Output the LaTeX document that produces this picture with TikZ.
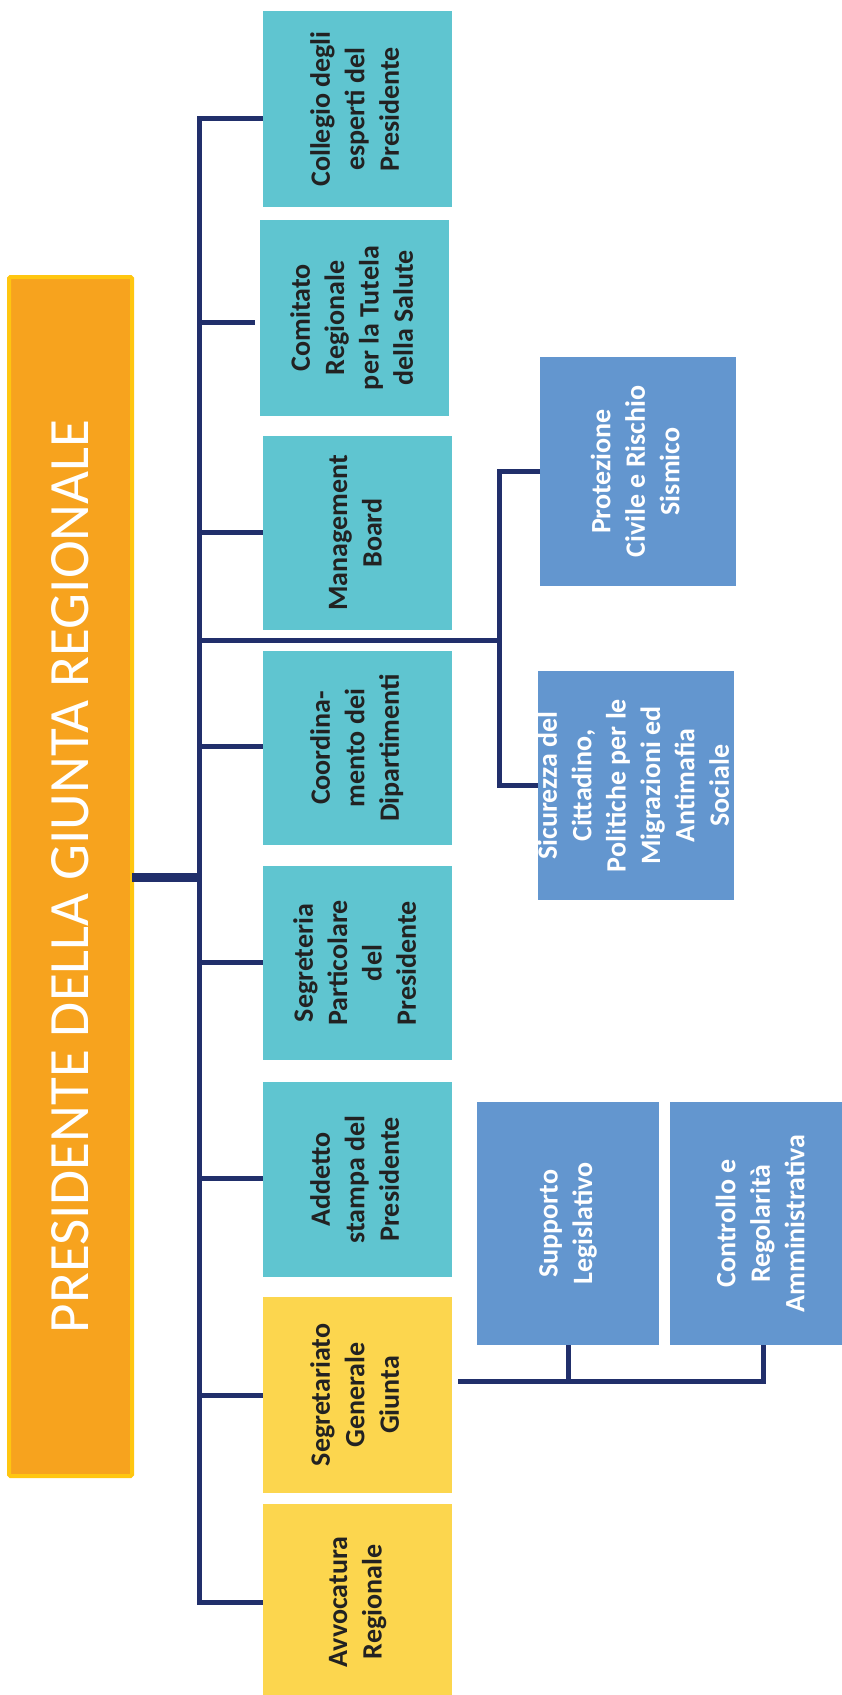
\documentclass[tikz,border=0pt]{standalone}
\usepackage{fontspec}
\setmainfont{Carlito}
\definecolor{tealbox}{RGB}{95,197,208}
\definecolor{yelbox}{RGB}{252,214,78}
\definecolor{bluebox}{RGB}{99,150,207}
\definecolor{orangebox}{RGB}{247,163,30}
\definecolor{orangeedge}{RGB}{255,198,16}
\definecolor{navy}{RGB}{33,47,107}
\definecolor{darktext}{RGB}{34,34,34}
\newcommand{\vtext}[1]{\rotatebox{90}{\fontsize{28pt}{34.4pt}\selectfont\bfseries\renewcommand{\arraystretch}{1}\begin{tabular}{@{}c@{}}#1\end{tabular}}}
\begin{document}
\begin{tikzpicture}[x=1pt,y=-1pt,
  unit/.style={inner sep=0pt, outer sep=0pt, draw=none},
  tealunit/.style={unit, fill=tealbox, text=darktext},
  yelunit/.style={unit, fill=yelbox, text=darktext},
  blueunit/.style={unit, fill=bluebox, text=white},
  conn/.style={draw=navy, line width=5pt},
  mainconn/.style={draw=navy, line width=9pt}]
\useasboundingbox (0,0) rectangle (842,1695);
\clip (0,0) rectangle (842,1695);
\fill[white] (0,0) rectangle (842,1695);

% President
\node[unit, fill=orangebox, draw=orangeedge, line width=4pt, rounded corners=1.5pt,
      minimum width=123pt, minimum height=1199pt] (pres) at (70.5,876.5) {};
\node[text=white, inner sep=0pt] (prestext) at (pres.center)
  {\rotatebox{90}{\fontsize{57pt}{60pt}\selectfont PRESIDENTE DELLA GIUNTA REGIONALE}};

% Teal / yellow column
\node[tealunit, minimum width=189pt, minimum height=196pt] (col) at (357.5,109) {\vtext{Collegio degli\\esperti del\\Presidente}};
\node[tealunit, minimum width=189pt, minimum height=196pt] (com) at (354.5,318) {\vtext{Comitato\\Regionale\\per la Tutela\\della Salute}};
\node[tealunit, minimum width=189pt, minimum height=194pt] (man) at (357.5,533) {\vtext{Management\\Board}};
\node[tealunit, minimum width=189pt, minimum height=194pt] (coo) at (357.5,748) {\vtext{Coordina-\\mento dei\\Dipartimenti}};
\node[tealunit, minimum width=189pt, minimum height=194pt] (seg) at (357.5,963) {\vtext{Segreteria\\Particolare\\del\\Presidente}};
\node[tealunit, minimum width=189pt, minimum height=195pt] (add) at (357.5,1179.5) {\vtext{Addetto\\stampa del\\Presidente}};
\node[yelunit, minimum width=189pt, minimum height=196pt] (sgg) at (357.5,1395) {\vtext{Segretariato\\Generale\\Giunta}};
\node[yelunit, minimum width=189pt, minimum height=196pt] (avv) at (357.5,1602) {\vtext{Avvocatura\\Regionale}};

% Blue units
\node[blueunit, minimum width=196pt, minimum height=229pt] (pro) at (638,471.5) {\vtext{Protezione\\Civile e Rischio\\Sismico}};
\node[blueunit, minimum width=196pt, minimum height=229pt] (sic) at (636,785.5) {};
\node[text=white, inner sep=0pt] (sictext) at (sic.center) {\vtext{Sicurezza del\\Cittadino,\\Politiche per le\\Migrazioni ed\\Antimafia\\Sociale}};
\node[blueunit, minimum width=182pt, minimum height=243pt] (sup) at (568,1223.5) {\vtext{Supporto\\Legislativo}};
\node[blueunit, minimum width=186pt, minimum height=243pt] (con) at (763,1223.5) {\vtext{Controllo e\\Regolarità\\Amministrativa}};

% Branch coordinates
\coordinate (bcol) at (199,118);
\coordinate (bcom) at (199,322);
\coordinate (ecom) at (255,322);
\coordinate (bman) at (199,532);
\coordinate (bsub) at (199,640);
\coordinate (jsub) at (499,640);
\coordinate (bcoo) at (199,746);
\coordinate (bpres) at (199,877);
\coordinate (bseg) at (199,962);
\coordinate (badd) at (199,1178);
\coordinate (bsgg) at (199,1395);
\coordinate (bavv) at (199,1602);
\coordinate (ssgg) at (458,1381);

% Connectors
\draw[conn] (bcol -| col.west) -- (bcol) -- (bavv) -- (bavv -| avv.west);
\draw[conn] (bcom) -- (ecom);
\draw[conn] (bman) -- (bman -| man.west);
\draw[conn] (bcoo) -- (bcoo -| coo.west);
\draw[conn] (bseg) -- (bseg -| seg.west);
\draw[conn] (badd) -- (badd -| add.west);
\draw[conn] (bsgg) -- (bsgg -| sgg.west);
\draw[mainconn] (pres.east |- bpres) -- ([xshift=2.5pt]bpres);
\draw[conn] (bsub) -- (jsub);
\draw[conn] (pro.west) -- (pro.west -| jsub) -- (sic.west -| jsub) -- (sic.west);
\draw[conn] (ssgg) -- (ssgg -| con.south) -- (con.south);
\draw[conn] (sup.south) -- (sup.south |- ssgg);
\end{tikzpicture}
\end{document}
